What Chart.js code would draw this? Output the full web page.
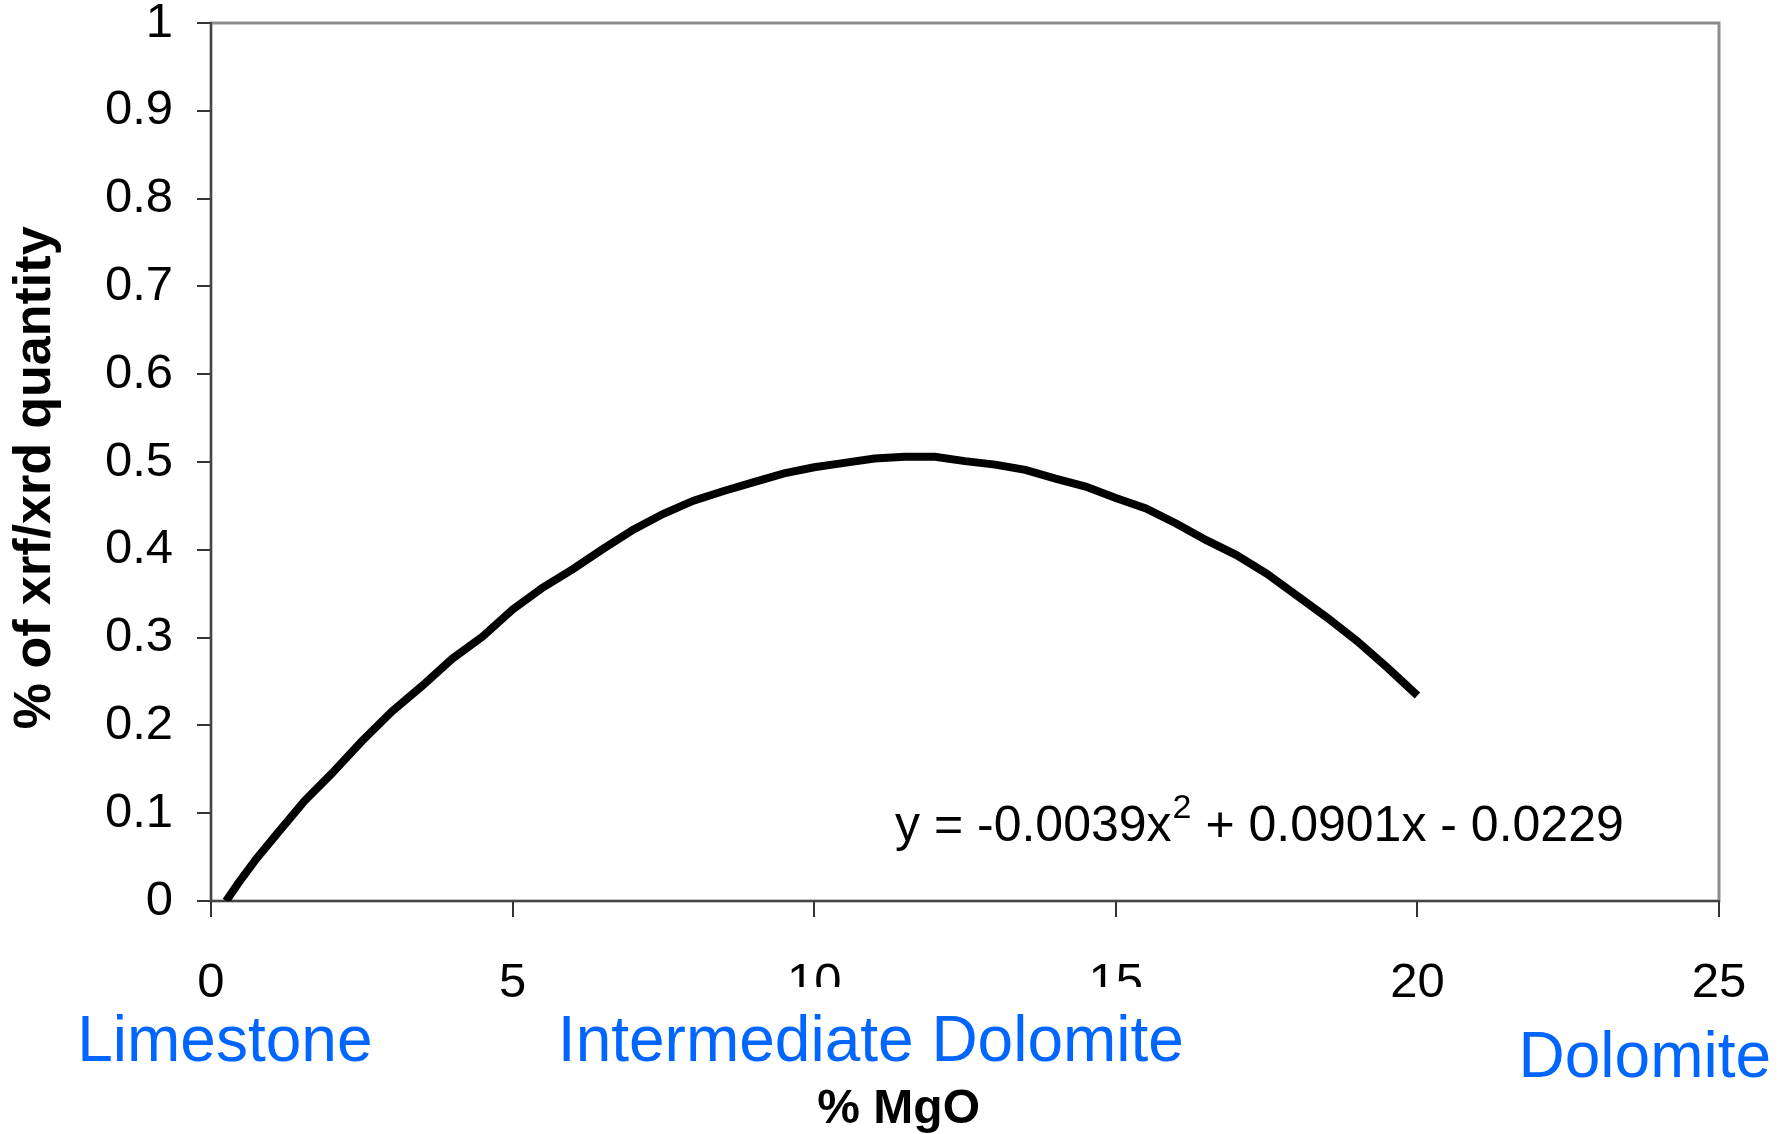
<!DOCTYPE html>
<html>
<head>
<meta charset="utf-8">
<script src="https://cdn.jsdelivr.net/npm/chart.js@4.4.0/dist/chart.umd.min.js"></script>
<style>
  html, body { margin: 0; padding: 0; background: #fff; }
  #wrap { width: 1784px; height: 1134px; }
</style>
</head>
<body>
<div id="wrap"><canvas id="mgo_chart" width="1784" height="1134"></canvas></div>
<script>
// values
const mgoPercent = [0.25, 0.45, 0.75, 1.1, 1.55, 2.0, 2.5, 3.0, 3.5, 4.0, 4.5, 5.0, 5.5, 6.0, 6.5, 7.0,
  7.5, 8.0, 8.5, 9.0, 9.5, 10.0, 10.5, 11.0, 11.5, 12.0, 12.5, 13.0, 13.5, 14.0, 14.5, 15.0,
  15.5, 16.0, 16.5, 17.0, 17.5, 18.0, 18.5, 19.0, 19.5, 20.0];
const xrfXrdQuantity = [0, 0.02, 0.048, 0.077, 0.114, 0.145, 0.182, 0.216, 0.245, 0.276, 0.301, 0.332, 0.357, 0.378, 0.401, 0.423,
  0.441, 0.456, 0.467, 0.477, 0.487, 0.494, 0.499, 0.504, 0.506, 0.506, 0.501, 0.497, 0.491, 0.481, 0.472, 0.459,
  0.447, 0.430, 0.411, 0.394, 0.373, 0.348, 0.323, 0.296, 0.266, 0.234];
const xTicks = [0, 5, 10, 15, 20, 25];
const yTicks = [0, 0.1, 0.2, 0.3, 0.4, 0.5, 0.6, 0.7, 0.8, 0.9, 1];
const rockTypes = ['Limestone', 'Intermediate Dolomite', 'Dolomite'];
const trendLabel = ['y = -0.0039x', '2', ' + 0.0901x - 0.0229'];
const xTitle = '% MgO';
const yTitle = '% of xrf/xrd quantity';

const FONT = '"Liberation Sans", Arial, sans-serif';
const BLUE = '#0066ff';

const points = mgoPercent.map((x, i) => ({ x: x, y: xrfXrdQuantity[i] }));

// grey frame round the plot area, drawn under the axes
const framePlugin = {
  id: 'frame',
  beforeDraw(chart) {
    const { ctx, chartArea: a } = chart;
    ctx.save();
    ctx.fillStyle = '#fff';
    ctx.fillRect(0, 0, chart.width, chart.height);
    ctx.strokeStyle = '#8c8c8c';
    ctx.lineWidth = 3;
    ctx.strokeRect(a.left, a.top, a.right - a.left, a.bottom - a.top);
    ctx.restore();
  }
};

// rock type labels under the axis, axis titles and the trendline equation
const labelsPlugin = {
  id: 'labels',
  afterDraw(chart) {
    const { ctx, chartArea: a } = chart;
    const xs = chart.scales.x, ys = chart.scales.y;
    ctx.save();

    // trendline equation
    ctx.fillStyle = '#000';
    ctx.textBaseline = 'alphabetic';
    ctx.textAlign = 'left';
    let ex = xs.getPixelForValue(11.34);
    const ey = ys.getPixelForValue(0.068);
    ctx.font = '50px ' + FONT;
    ctx.fillText(trendLabel[0], ex, ey);
    ex += ctx.measureText(trendLabel[0]).width + 1;
    ctx.font = '34px ' + FONT;
    ctx.fillText(trendLabel[1], ex, ey - 23);
    ex += ctx.measureText(trendLabel[1]).width;
    ctx.font = '50px ' + FONT;
    ctx.fillText(trendLabel[2], ex, ey);

    // rock types
    ctx.font = '64px ' + FONT;
    ctx.textAlign = 'center';
    const spots = [
      { v: 0.23, dy: 160, box: false },
      { v: 10.94, dy: 160, box: true },
      { v: 23.77, dy: 176, box: false }
    ];
    rockTypes.forEach((name, i) => {
      const cx = xs.getPixelForValue(spots[i].v);
      const by = a.bottom + spots[i].dy;
      const w = ctx.measureText(name).width;
      if (spots[i].box) {
        // this text box hides the lower part of the 10 and 15 labels, as in the original
        ctx.fillStyle = '#fff';
        ctx.fillRect(cx - w / 2 - 6, by - 74, w + 12, 88);
      }
      ctx.fillStyle = BLUE;
      ctx.fillText(name, cx, by);
    });

    // x axis title, set left of centre like the original
    ctx.fillStyle = '#000';
    ctx.font = 'bold 48px ' + FONT;
    ctx.fillText(xTitle, xs.getPixelForValue(11.4), a.bottom + 222);

    // y axis title, a little below the middle of the axis
    ctx.translate(36, ys.getPixelForValue(0.482));
    ctx.rotate(-Math.PI / 2);
    ctx.textBaseline = 'middle';
    ctx.font = 'bold 52px ' + FONT;
    ctx.fillText(yTitle, 0, 0);
    ctx.restore();
  }
};

const config = {
  type: 'scatter',
  data: {
    datasets: [{
      label: 'xrf/xrd',
      data: points,
      showLine: true,
      borderColor: '#000',
      borderWidth: 8,
      pointRadius: 0,
      tension: 0,
      fill: false
    }]
  },
  options: {
    responsive: false,
    animation: false,
    events: [],
    layout: {
      autoPadding: false,
      padding: { top: 23, right: 65, bottom: 0, left: 0 }
    },
    plugins: {
      legend: { display: false },
      tooltip: { enabled: false }
    },
    scales: {
      x: {
        type: 'linear',
        min: 0,
        max: 25,
        afterBuildTicks(scale) { scale.ticks = xTicks.map(v => ({ value: v })); },
        afterFit(scale) {
          scale.height = 233;
          scale.paddingLeft = 0;
          scale.paddingRight = 0;
        },
        ticks: {
          color: '#000',
          font: { family: FONT, size: 49 },
          padding: 37,
          maxRotation: 0
        },
        grid: { drawOnChartArea: false, drawTicks: true, tickLength: 16, color: '#333', lineWidth: 2 },
        border: { display: true, color: '#444', width: 2 }
      },
      y: {
        type: 'linear',
        min: 0,
        max: 1,
        afterBuildTicks(scale) { scale.ticks = yTicks.map(v => ({ value: v })); },
        afterFit(scale) {
          scale.width = 211;
          scale.paddingTop = 0;
          scale.paddingBottom = 0;
        },
        ticks: {
          color: '#000',
          font: { family: FONT, size: 49 },
          padding: 24,
          callback: v => String(Number(v.toFixed(1)))
        },
        grid: { drawOnChartArea: false, drawTicks: true, tickLength: 14, color: '#333', lineWidth: 2 },
        border: { display: true, color: '#444', width: 2 }
      }
    }
  },
  plugins: [framePlugin, labelsPlugin]
};

const mgoChart = new Chart(document.getElementById('mgo_chart'), config);
</script>
</body>
</html>
